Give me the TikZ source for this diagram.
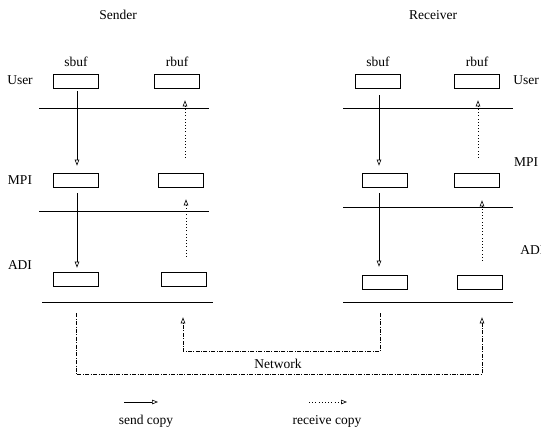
\documentclass[tikz,border=0pt]{standalone}
\usepackage{fontspec}
\setmainfont{Liberation Serif}
\usepackage{tikz}
\usetikzlibrary{arrows.meta, positioning, calc}

\begin{document}
\begin{tikzpicture}[x=1pt, y=-1pt, line width=0.6pt,
    buf/.style={draw, rectangle, minimum width=45pt, minimum height=14pt, inner sep=0pt},
    lbl/.style={font=\fontsize{13.5}{16}\selectfont, inner sep=0pt},
    sendcopy/.style={-{Triangle[open, length=6pt, width=4.5pt]}},
    recvcopy/.style={-{Triangle[open, length=6pt, width=4.5pt]}, dash pattern=on 0.8pt off 2.4pt},
    netlink/.style={-{Triangle[open, length=6pt, width=4.5pt]}, dash pattern=on 4pt off 1.5pt on 0.8pt off 1.5pt}]
  \useasboundingbox (0,0) rectangle (541,431);
  % headings
  \node[lbl] (sender) at (118,15) {Sender};
  \node[lbl] (receiver) at (433,15) {Receiver};
  \node[lbl] (sbufS) at (76,62) {sbuf};
  \node[lbl] (rbufS) at (177,62) {rbuf};
  \node[lbl] (sbufR) at (378,62) {sbuf};
  \node[lbl] (rbufR) at (477,62) {rbuf};
  % layer names
  \node[lbl] (userS) at (20,80) {User};
  \node[lbl] (mpiS) at (20,180) {MPI};
  \node[lbl] (adiS) at (20,265) {ADI};
  \node[lbl] (userR) at (526,80) {User};
  \node[lbl] (mpiR) at (526,162) {MPI};
  \node[lbl, anchor=west] (adiR) at (520,250) {ADI};
  % sender buffers
  \node[buf] (su) at (76,81) {};
  \node[buf] (ru) at (177,81) {};
  \node[buf] (sm) at (76,180) {};
  \node[buf] (rm) at (181,180) {};
  \node[buf] (sa) at (76,279) {};
  \node[buf] (ra) at (184,279) {};
  % receiver buffers
  \node[buf] (su2) at (378,81) {};
  \node[buf] (ru2) at (477,81) {};
  \node[buf] (sm2) at (385,180) {};
  \node[buf] (rm2) at (477,180) {};
  \node[buf] (sa2) at (385,282) {};
  \node[buf] (ra2) at (480,282) {};
  % layer boundaries
  \draw (39,108) -- (209,108);
  \draw (39,211) -- (209,211);
  \draw (42,302) -- (213,302);
  \draw (343,108) -- (513,108);
  \draw (343,207) -- (513,207);
  \draw (343,302) -- (513,302);
  % send copies
  \draw[sendcopy] ([xshift=1pt,yshift=-3pt]su.south) -- ([xshift=1pt,yshift=7pt]sm.north);
  \draw[sendcopy] ([xshift=1pt,yshift=-6pt]sm.south) -- ([xshift=1pt,yshift=4pt]sa.north);
  \draw[sendcopy] ([xshift=1pt,yshift=-7pt]su2.south) -- ([xshift=-6pt,yshift=7pt]sm2.north);
  \draw[sendcopy] ([xshift=-6pt,yshift=-6pt]sm2.south) -- ([xshift=-6pt,yshift=8pt]sa2.north);
  % receive copies
  \draw[recvcopy] ([xshift=4pt,yshift=15pt]rm.north) -- ([xshift=8pt,yshift=-12pt]ru.south);
  \draw[recvcopy] ([xshift=2pt,yshift=15pt]ra.north) -- ([xshift=5pt,yshift=-12pt]rm.south);
  \draw[recvcopy] ([xshift=1pt,yshift=15pt]rm2.north) -- ([xshift=1pt,yshift=-12pt]ru2.south);
  \draw[recvcopy] ([xshift=2pt,yshift=14pt]ra2.north) -- ([xshift=5pt,yshift=-13pt]rm2.south);
  % network
  \draw[netlink] ([yshift=-27pt]sa.south) |- ([xshift=2pt,yshift=-85pt]ra2.south) -- ([xshift=2pt,yshift=-28pt]ra2.south);
  \draw[netlink] ([xshift=-5pt,yshift=-24pt]sa2.south) |- ([xshift=-1pt,yshift=-65pt]ra.south) -- ([xshift=-1pt,yshift=-31pt]ra.south);
  \node[lbl] (net) at (278,364) {Network};
  % legend
  \coordinate (sendA) at (124,402);
  \coordinate (sendB) at (158,402);
  \coordinate (recvA) at (309,402);
  \coordinate (recvB) at (347,402);
  \draw[sendcopy] (sendA) -- (sendB);
  \draw[recvcopy] (recvA) -- (recvB);
  \node[lbl] (sendtxt) at (146,421) {send copy};
  \node[lbl] (recvtxt) at (327,421) {receive copy};
\end{tikzpicture}
\end{document}
